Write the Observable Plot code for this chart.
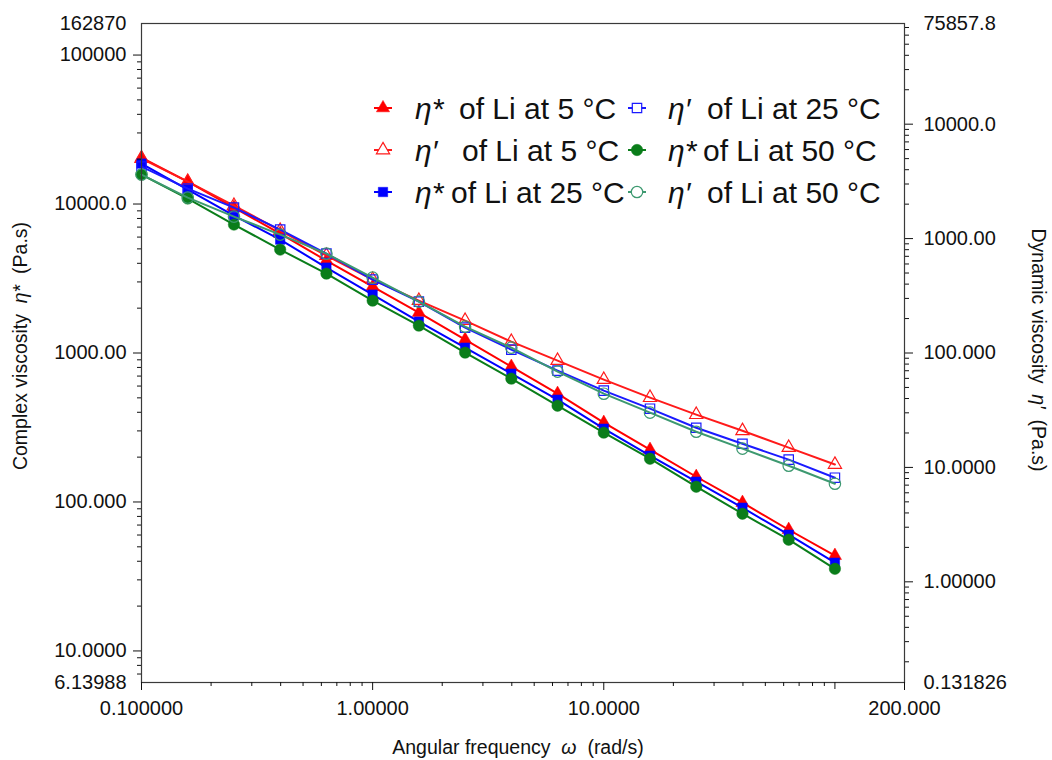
<!DOCTYPE html>
<html><head><meta charset="utf-8">
<script src="https://cdn.jsdelivr.net/npm/d3@7"></script>
<script src="https://cdn.jsdelivr.net/npm/@observablehq/plot@0.6"></script>
<style>
body{margin:0;background:#fff;}
#wrap{position:relative;width:1052px;height:760px;font-family:"Liberation Sans",Arial,sans-serif;}
#wrap svg{position:absolute;left:0;top:0;}
</style></head><body><div id="wrap"></div>
<script>
// ---- data ----
const omega = [0.1,0.1585,0.2512,0.3981,0.631,1,1.585,2.512,3.981,6.31,10,15.85,25.12,39.81,63.1,100];
// complex viscosity eta* (left axis, Pa.s)
const etaStar5  = [20500,14150,9470,6330,4170,2790,1866,1229,810,533,340.5,224.4,147.7,98.9,65.1,43.6];
const etaStar25 = [18690,12510,8365,5770,3744,2466,1624,1086,726.6,486,310.4,204.5,136.8,91.5,60.3,39.1];
const etaStar50 = [15770,10880,7278,4945,3411,2246,1527,1006,672.5,443,291.9,195.2,126.6,83.4,55.8,35.6];
// dynamic viscosity eta' (right axis, Pa.s)
const etaPrime5  = [5005,3151,1943,1175,710,438,287,191.8,125.7,85.8,58.5,40.7,28.9,20.9,14.9,10.6];
const etaPrime25 = [4262,2736,1866,1199,739,438,281,166.6,107,70.1,46.9,32.6,22.2,16.1,11.7,8.13];
const etaPrime50 = [3627,2283,1557,1084,739,456,281,170,111.4,68.7,44.1,30.1,20.5,14.6,10.35,7.2];

const seriesNames = ["η* of Li at 5 °C","η′ of Li at 5 °C","η* of Li at 25 °C","η′ of Li at 25 °C","η* of Li at 50 °C","η′ of Li at 50 °C"];

// axes
const xDomain = [0.1, 200];
const yLeftDomain = [6.13988, 162870];
const yRightDomain = [0.131826, 75857.8];
const xLabeledTicks = [0.1, 1, 10, 200];
const xUnlabeledTicks = [100];
const yLeftTicks = [10, 100, 1000, 10000, 100000];
const yRightTicks = [1, 10, 100, 1000, 10000];

// ---- helpers ----
const fmt = d3.format(".6r");
const [L0, L1] = yLeftDomain, [R0, R1] = yRightDomain;
const toLeft = v => L0 * Math.pow(L1 / L0, Math.log(v / R0) / Math.log(R1 / R0));
const fromLeft = y => R0 * Math.pow(R1 / R0, Math.log(y / L0) / Math.log(L1 / L0));
function minors(lo, hi) {
  const out = [];
  for (let e = Math.floor(Math.log10(lo)) - 1; e <= Math.ceil(Math.log10(hi)); e++)
    for (let m = 2; m <= 9; m++) { const v = m * Math.pow(10, e); if (v > lo * 1.0001 && v < hi * 0.9999) out.push(v); }
  return out;
}
const xMinor = minors(xDomain[0], xDomain[1]).filter(v => v !== 200);
const yLeftMinor = minors(L0, L1);
const yRightMinor = minors(R0, R1).map(toLeft);

const styles = [
  {values: etaStar5,  axis: "left",  color: "#ff0000", symbol: "triangle", filled: true},
  {values: etaPrime5, axis: "right", color: "#ff1a1a", symbol: "triangle", filled: false},
  {values: etaStar25, axis: "left",  color: "#0000ff", symbol: "square",   filled: true},
  {values: etaPrime25,axis: "right", color: "#1a1aff", symbol: "square",   filled: false},
  {values: etaStar50, axis: "left",  color: "#0a7d1a", symbol: "circle",   filled: true},
  {values: etaPrime50,axis: "right", color: "#3d9970", symbol: "circle",   filled: false}
];
const symR = {triangle: 4.9, square: 5.3, circle: 5.7};

const marks = [];
styles.forEach((s, k) => {
  const rows = s.values.map((v, i) => ({x: omega[i], y: s.axis === "right" ? toLeft(v) : v, name: seriesNames[k]}));
  marks.push(Plot.line(rows, {x: "x", y: "y", stroke: s.color, strokeWidth: 2}));
  marks.push(Plot.dot(rows, {x: "x", y: "y", symbol: s.symbol, r: symR[s.symbol],
    fill: s.filled ? s.color : "none", stroke: s.color, strokeWidth: s.filled ? 0.5 : 1.2}));
});

const fs = 20;
const tfs = 19.5;
const plot = Plot.plot({
  width: 1052, height: 760,
  marginLeft: 141, marginRight: 148, marginTop: 23, marginBottom: 78,
  style: {fontFamily: '"Liberation Sans", Arial, sans-serif', fontSize: fs + "px", color: "#111", background: "white"},
  x: {type: "log", domain: xDomain},
  y: {type: "log", domain: yLeftDomain},
  marks: [
    ...marks,
    Plot.frame({stroke: "#3a3a3a", strokeWidth: 1.2}),
    // left axis
    Plot.axisY(yLeftTicks, {anchor: "left", tickSize: 8, tickPadding: 7, text: d => fmt(d), fontSize: fs, label: null}),
    Plot.axisY(yLeftMinor, {anchor: "left", tickSize: 4, text: () => "", label: null}),
    Plot.axisY(yLeftDomain, {anchor: "left", tickSize: 0, tickPadding: 15, text: d => fmt(d), fontSize: fs, label: null}),
    // right axis
    Plot.axisY(yRightTicks.map(toLeft), {anchor: "right", tickSize: 8, tickPadding: 11, text: d => fmt(fromLeft(d)), fontSize: fs, label: null}),
    Plot.axisY(yRightMinor, {anchor: "right", tickSize: 4, text: () => "", label: null}),
    Plot.axisY(yRightDomain.map(toLeft), {anchor: "right", tickSize: 0, tickPadding: 19, text: d => fmt(fromLeft(d)), fontSize: fs, label: null}),
    // bottom axis
    Plot.axisX(xLabeledTicks, {anchor: "bottom", tickSize: 8, tickPadding: 10, text: d => fmt(d), fontSize: fs, label: null}),
    Plot.axisX(xUnlabeledTicks, {anchor: "bottom", tickSize: 7, text: () => "", label: null}),
    Plot.axisX(xMinor, {anchor: "bottom", tickSize: 4, text: () => "", label: null})
  ]
});
document.getElementById("wrap").appendChild(plot);

// ---- overlay: axis titles and legend ----
const ov = d3.select("#wrap").append("svg").attr("width", 1052).attr("height", 760)
  .style("font-family", '"Liberation Sans", Arial, sans-serif').attr("fill", "#111");

function title(x, y, rot, parts, size) {
  const t = ov.append("text").attr("transform", `translate(${x},${y}) rotate(${rot})`)
    .attr("text-anchor", "middle").attr("font-size", size).attr("xml:space", "preserve");
  parts.forEach(p => t.append("tspan").attr("font-style", p.i ? "italic" : null).text(p.t));
}
title(27, 346, -90, [{t: "Complex viscosity  "}, {t: "η*", i: 1}, {t: "  (Pa.s)"}], tfs);
title(1032, 350, 90, [{t: "Dynamic viscosity  "}, {t: "η′", i: 1}, {t: "  (Pa.s)"}], tfs);
title(518, 754, 0, [{t: "Angular frequency  "}, {t: "ω", i: 1}, {t: "  (rad/s)"}], tfs);

// legend layout
const legCols = [{sx: 383, ex: 415}, {sx: 637, ex: 668}];
const legRows = [108, 150, 192];
const legTextX = [459, 462, 451, 707, 703, 707];
const legFs = 30;
styles.forEach((s, k) => {
  const col = legCols[Math.floor(k / 3)], cy = legRows[k % 3];
  const g = ov.append("g");
  g.append("line").attr("x1", col.sx - 9).attr("x2", col.sx + 9).attr("y1", cy).attr("y2", cy)
    .attr("stroke", s.color).attr("stroke-width", 2);
  const sym = s.symbol === "triangle" ? d3.symbolTriangle : s.symbol === "square" ? d3.symbolSquare : d3.symbolCircle;
  const r = symR[s.symbol];
  g.append("path").attr("d", d3.symbol(sym, Math.PI * r * r)())
    .attr("transform", `translate(${col.sx},${cy})`)
    .attr("fill", s.filled ? s.color : "white").attr("stroke", s.color).attr("stroke-width", s.filled ? 0.5 : 1.2);
  const [eta, ...rest] = seriesNames[k].split(" ");
  g.append("text").attr("x", col.ex).attr("y", cy).attr("dy", "0.36em").attr("font-size", legFs)
    .attr("font-style", "italic").text(eta);
  g.append("text").attr("x", legTextX[k]).attr("y", cy).attr("dy", "0.36em").attr("font-size", legFs)
    .text(rest.join(" "));
});
</script></body></html>
